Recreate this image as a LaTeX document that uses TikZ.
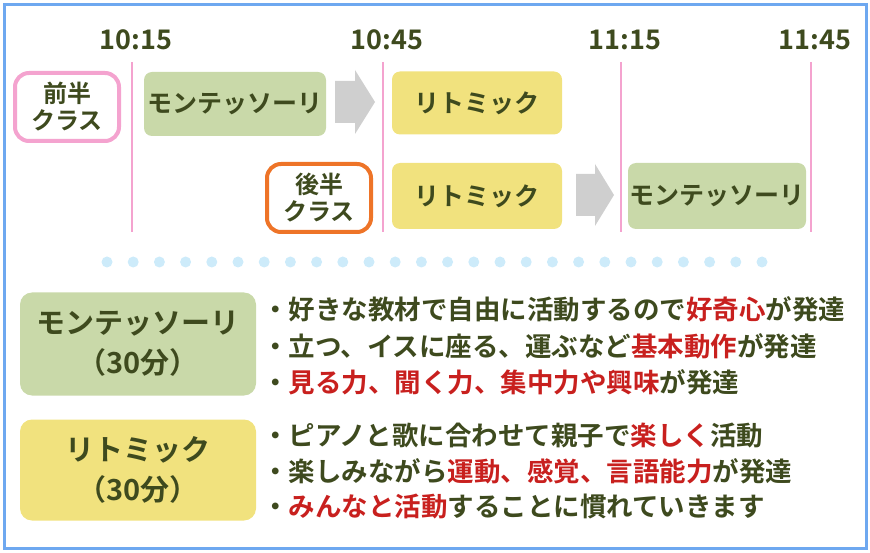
\documentclass[tikz,border=0pt]{standalone}
\usepackage{fontspec}
\setmainfont{Noto Sans CJK JP}[BoldFont={Noto Sans CJK JP Bold}]
\definecolor{txt}{HTML}{3E4A1E}
\definecolor{hl}{HTML}{C8201E}
\definecolor{gbox}{HTML}{C9D9A9}
\definecolor{ybox}{HTML}{F1E27E}
\definecolor{frame}{HTML}{6EA8F0}
\definecolor{pinkc}{HTML}{F4A3CF}
\definecolor{orc}{HTML}{EE7428}
\definecolor{dotc}{HTML}{CDEBFA}
\definecolor{arrc}{HTML}{CFCFCF}
\tikzset{
 every node/.style={text=txt,font=\bfseries},
 act/.style={rounded corners=8pt,inner sep=0pt,font=\fontsize{25}{27}\bfseries},
 cls/.style={draw,line width=4pt,rounded corners=14pt,fill=white,inner sep=0pt,align=center,font=\fontsize{24}{27}\bfseries},
 tline/.style={draw=pinkc,line width=1.2pt},
 tim/.style={font=\fontsize{27}{29}\bfseries},
 garr/.style={fill=arrc},
 big/.style={rounded corners=12pt,inner sep=0pt,align=center,font=\fontsize{29}{40}\bfseries},
 bul/.style={anchor=west,font=\fontsize{26.5}{28}\bfseries,inner sep=0pt},
}
\begin{document}
\begin{tikzpicture}[x=1pt,y=-1pt]
\useasboundingbox (0,0) rectangle (870,553);
\draw[frame,line width=3pt] (4,5) rectangle (866,548);
% time lines
\foreach \n/\x/\t in {a/132/10:15,b/383/10:45,c/621/11:15,d/811/11:45}{
 \node[tim] (t\n) at (\x+4,40) {\t};
 \coordinate (l\n) at (\x,62);
 \coordinate (m\n) at (\x,232);
 \draw[tline] (l\n) -- (m\n);
}
\node[cls,draw=pinkc,minimum width=104pt,minimum height=68pt] (c1) at (67,107) {前半\\クラス};
\node[act,fill=gbox,minimum width=182pt,minimum height=64pt] (m1) at (235,104) {モンテッソーリ};
\fill[garr] (335,81) -- (355,81) -- (355,70) -- (375,102) -- (355,134) -- (355,123) -- (335,123) -- cycle;
\node[act,fill=ybox,minimum width=170pt,minimum height=63pt] (r1) at (477,103) {リトミック};
\node[cls,draw=orc,minimum width=104pt,minimum height=68pt] (c2) at (319,198) {後半\\クラス};
\node[act,fill=ybox,minimum width=170pt,minimum height=66pt] (r2) at (477,196) {リトミック};
\fill[garr] (576,174) -- (595,174) -- (595,164) -- (614,195) -- (595,226) -- (595,216) -- (576,216) -- cycle;
\node[act,fill=gbox,minimum width=178pt,minimum height=66pt] (m2) at (717,196) {モンテッソーリ};
\foreach \i in {0,...,25} \fill[dotc] (107+\i*26.2,262) circle (5.5pt);
\node[big,fill=gbox,minimum width=236pt,minimum height=103pt] (bm) at (138,344) {モンテッソーリ\\（30分）};
\node[big,fill=ybox,minimum width=236pt,minimum height=101pt] (br) at (138,470) {リトミック\\（30分）};
\node[bul] (b1) at (262,309) {・好きな教材で自由に活動するので\textcolor{hl}{好奇心}が発達};
\node[bul] (b2) at (262,346) {・立つ、イスに座る、運ぶなど\textcolor{hl}{基本動作}が発達};
\node[bul] (b3) at (262,382) {・\textcolor{hl}{見る力、聞く力、集中力や興味}が発達};
\node[bul] (b4) at (262,436) {・ピアノと歌に合わせて親子で\textcolor{hl}{楽しく}活動};
\node[bul] (b5) at (262,471) {・楽しみながら\textcolor{hl}{運動、感覚、言語能力}が発達};
\node[bul] (b6) at (262,507) {・\textcolor{hl}{みんなと活動}することに慣れていきます};
\end{tikzpicture}
\end{document}
